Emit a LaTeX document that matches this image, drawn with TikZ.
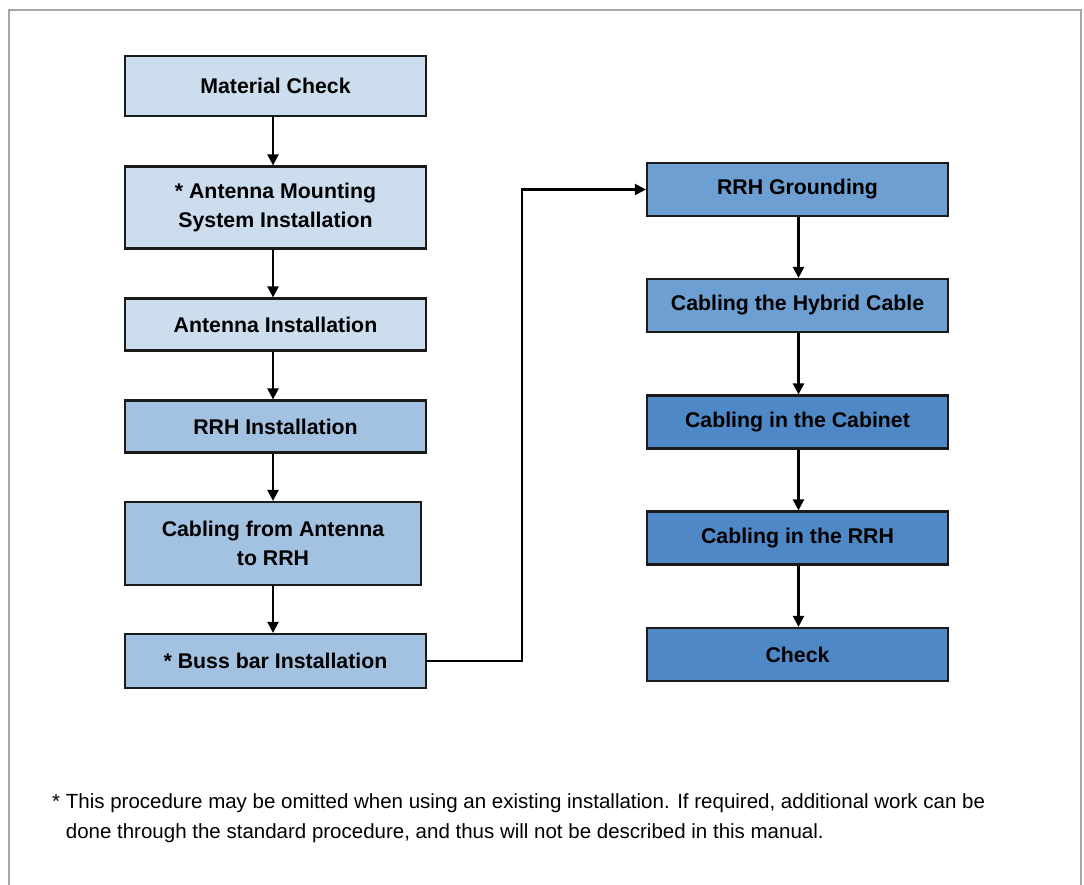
\documentclass[tikz,border=0pt]{standalone}
\usepackage{fontspec}
\setmainfont{Liberation Sans}
\usetikzlibrary{arrows.meta}
\definecolor{frameg}{HTML}{A6A6A6}
\definecolor{fillA}{HTML}{CCDDED}
\definecolor{fillB}{HTML}{A3C1E0}
\definecolor{fillC}{HTML}{6E9FD2}
\definecolor{fillD}{HTML}{4F88C6}
\definecolor{edgec}{HTML}{1A1A1A}
\tikzset{
  stepbox/.style={draw=edgec, line width=2.2pt, minimum width=301pt, align=center,
    inner sep=0pt, font=\fontsize{21.3}{29}\selectfont\bfseries},
  flow/.style={draw=black, line width=2.3pt, -{Triangle[length=11pt,width=11pt]}},
}
\begin{document}
\begin{tikzpicture}[x=1pt,y=-1pt]
\useasboundingbox (0,0) rectangle (1084,885);
\draw[frameg, line width=2.4pt] (9,886) -- (9,10) -- (1081,10) -- (1081,886);
% left column
\node[stepbox, fill=fillA, minimum height=60pt] (mc) at (275.5,86) {Material Check};
\node[stepbox, fill=fillA, minimum height=82pt] (ams) at (275.5,207.5) {* Antenna Mounting\\System Installation};
\node[stepbox, fill=fillA, minimum height=52pt] (ai) at (275.5,324.5) {Antenna Installation};
\node[stepbox, fill=fillB, minimum height=52pt] (rrhi) at (275.5,426.5) {RRH Installation};
\node[stepbox, fill=fillB, minimum height=83pt, minimum width=296pt] (cfa) at (273,543.5) {Cabling from Antenna\\to RRH};
\node[stepbox, fill=fillB, minimum height=54pt] (bb) at (275.5,661) {* Buss bar Installation};
% right column
\node[stepbox, fill=fillC, minimum height=53pt] (gr) at (797.5,189.5) {RRH Grounding};
\node[stepbox, fill=fillC, minimum height=53pt] (hy) at (797.5,305.5) {Cabling the Hybrid Cable};
\node[stepbox, fill=fillD, minimum height=53pt] (cab) at (797.5,422) {Cabling in the Cabinet};
\node[stepbox, fill=fillD, minimum height=53pt] (crrh) at (797.5,538) {Cabling in the RRH};
\node[stepbox, fill=fillD, minimum height=53pt] (chk) at (797.5,654.5) {Check};
% column coordinates
\coordinate (colL) at (273,0);
\coordinate (colR) at (798.5,0);
\coordinate (turn) at (522,0);
% arrows
\draw[flow] (mc.south -| colL) -- (ams.north -| colL);
\draw[flow] (ams.south -| colL) -- (ai.north -| colL);
\draw[flow] (ai.south -| colL) -- (rrhi.north -| colL);
\draw[flow] (rrhi.south -| colL) -- (cfa.north -| colL);
\draw[flow] (cfa.south -| colL) -- (bb.north -| colL);
\draw[flow] (bb.east) -- (bb.east -| turn) -- (gr.west -| turn) -- (gr.west);
\draw[flow] (gr.south -| colR) -- (hy.north -| colR);
\draw[flow] (hy.south -| colR) -- (cab.north -| colR);
\draw[flow] (cab.south -| colR) -- (crrh.north -| colR);
\draw[flow] (crrh.south -| colR) -- (chk.north -| colR);
% footnote (base anchor = baseline of last line)
\node[anchor=base west, inner sep=0pt, align=left, font=\fontsize{20.5}{30}\selectfont] (note) at (52,838)
 {* This procedure may be omitted when using an existing installation. If required, additional work can be\\
 \hphantom{* }done through the standard procedure, and thus will not be described in this manual.};
\end{tikzpicture}
\end{document}
